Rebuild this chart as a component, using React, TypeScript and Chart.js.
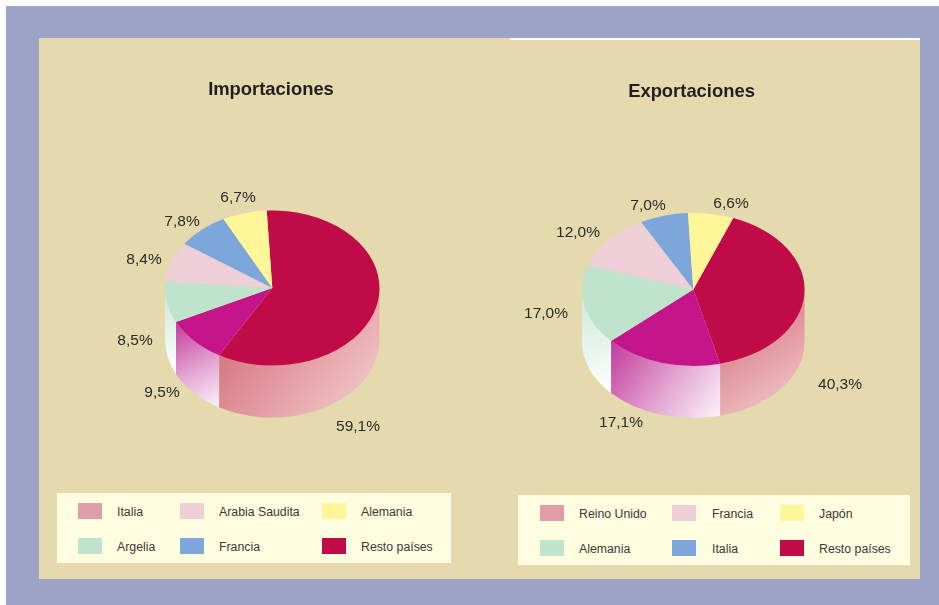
import React, { useEffect, useRef } from "react";
import { Chart, registerables } from "chart.js";

Chart.register(...registerables);

// ---- data ----
const importTitle = "Importaciones";
const exportTitle = "Exportaciones";
const importSlices = ["Resto países", "Italia", "Argelia", "Arabia Saudita", "Francia", "Alemania"];
const importValues = [59.1, 9.5, 8.5, 8.4, 7.8, 6.7];
const importPercentLabels = ["59,1%", "9,5%", "8,5%", "8,4%", "7,8%", "6,7%"];
const exportSlices = ["Resto países", "Reino Unido", "Alemania", "Francia", "Italia", "Japón"];
const exportValues = [40.3, 17.1, 17.0, 12.0, 7.0, 6.6];
const exportPercentLabels = ["40,3%", "17,1%", "17,0%", "12,0%", "7,0%", "6,6%"];
const importLegend = [
  ["Italia", "#E09DA8"], ["Arabia Saudita", "#EFD0D9"], ["Alemania", "#FFF69A"],
  ["Argelia", "#BFE3CB"], ["Francia", "#7DA7DA"], ["Resto países", "#C10A48"],
];
const exportLegend = [
  ["Reino Unido", "#E09DA8"], ["Francia", "#EFD0D9"], ["Japón", "#FFF69A"],
  ["Alemania", "#BFE3CB"], ["Italia", "#7DA7DA"], ["Resto países", "#C10A48"],
];
const sliceColors = ["#C10A48", "#C5158A", "#BFE3CB", "#EFD0D9", "#7DA7DA", "#FFF69A"];
const wallColors = [
  ["#CE5F6E", "#E59FA6", "#F3D3D1"],
  ["#C23A9C", "#E3A6D2", "#FDF3FA"],
  ["#CDE8D8", "#E8F5EE", "#FFFFFF"],
  ["#EFD0D9", "#EFD0D9", "#EFD0D9"],
  ["#7DA7DA", "#7DA7DA", "#7DA7DA"],
  ["#FFF69A", "#FFF69A", "#FFF69A"],
];

// ---- layout ----
const FONT = "'Liberation Sans', Arial, sans-serif";
const PANEL_TOP = 38;
const CANVAS_H = 445;

const wallAndSquash = {
  id: "wallAndSquash",
  beforeDatasetsDraw(chart: any, _a: any, o: any) {
    const ctx = chart.ctx;
    const arcs = chart.getDatasetMeta(0).data;
    ctx.save();
    arcs.forEach((arc: any, i: number) => {
      const { x, y, startAngle, endAngle, outerRadius } = arc.getProps(
        ["x", "y", "startAngle", "endAngle", "outerRadius"], true);
      const cx = x + o.shiftX;
      const rx = outerRadius;
      const ry = outerRadius * o.squash;
      for (let k = -1; k <= 1; k++) {
        const base = k * 2 * Math.PI;
        const a = Math.max(startAngle, base);
        const b = Math.min(endAngle, Math.PI + base);
        if (b <= a) continue;
        const xa = cx + rx * Math.cos(a);
        const xb = cx + rx * Math.cos(b);
        const minX = Math.min(xa, xb);
        const maxX = a <= base ? cx + rx : Math.max(xa, xb);
        const ya = y + ry * Math.sin(a);
        const yb = y + ry * Math.sin(b);
        const lowY = a < base + Math.PI / 2 && b > base + Math.PI / 2 ? y + ry : Math.max(ya, yb);
        const g = ctx.createLinearGradient(minX, Math.min(ya, yb), maxX, lowY + o.depth);
        g.addColorStop(0, wallColors[i][0]);
        g.addColorStop(0.55, wallColors[i][1]);
        g.addColorStop(1, wallColors[i][2]);
        ctx.beginPath();
        ctx.ellipse(cx, y, rx, ry, 0, a, b, false);
        ctx.lineTo(cx + rx * Math.cos(b), y + ry * Math.sin(b) + o.depth);
        ctx.ellipse(cx, y + o.depth, rx, ry, 0, b, a, true);
        ctx.closePath();
        ctx.fillStyle = g;
        ctx.fill();
      }
    });
    const c = arcs[0];
    ctx.translate(c.x + o.shiftX, c.y);
    ctx.scale(1, o.squash);
    ctx.translate(-c.x, -c.y);
  },
  afterDatasetsDraw(chart: any, _a: any, o: any) {
    const ctx = chart.ctx;
    ctx.restore();
    ctx.save();
    ctx.font = `15.5px ${FONT}`;
    ctx.fillStyle = "#2B2B2B";
    ctx.textAlign = "center";
    ctx.textBaseline = "middle";
    o.labels.forEach((t: string, i: number) => {
      ctx.fillText(t, o.labelCentres[i][0] - o.canvasX, o.labelCentres[i][1] - PANEL_TOP);
    });
    ctx.restore();
  },
};

type PieProps = {
  title: string; slices: string[]; values: number[]; labels: string[];
  canvasX: number; canvasW: number; cx: number; cy: number; rx: number; ry: number;
  depth: number; rotation: number; titleY: number; labelCentres: number[][];
};

function Pie(p: PieProps) {
  const ref = useRef<HTMLCanvasElement>(null);
  useEffect(() => {
    const titleCentre = p.canvasX + p.canvasW / 2;
    const side = p.canvasW / 2 - p.rx;
    const areaTop = p.cy - PANEL_TOP - p.rx;
    const lineH = 18.4 * 1.2;
    const padTop = p.titleY - PANEL_TOP - lineH / 2;
    const chart = new Chart(ref.current!, {
      type: "pie",
      data: {
        labels: p.slices,
        datasets: [{ data: p.values, backgroundColor: sliceColors, borderWidth: 0 }],
      },
      plugins: [wallAndSquash],
      options: {
        responsive: false,
        animation: false,
        rotation: p.rotation,
        layout: { padding: { left: side, right: side, top: 0, bottom: CANVAS_H - (areaTop + 2 * p.rx) } },
        plugins: {
          legend: { display: false },
          tooltip: { enabled: false },
          title: {
            display: true,
            text: p.title,
            color: "#231F20",
            font: { family: FONT, size: 18.4, weight: "bold", lineHeight: 1.2 },
            padding: { top: padTop, bottom: areaTop - padTop - lineH },
          },
          wallAndSquash: {
            squash: p.ry / p.rx,
            depth: p.depth,
            shiftX: p.cx - titleCentre,
            labels: p.labels,
            labelCentres: p.labelCentres,
            canvasX: p.canvasX,
          },
        },
      } as any,
    });
    return () => chart.destroy();
  }, []);
  return (
    <canvas
      ref={ref}
      width={p.canvasW}
      height={CANVAS_H}
      style={{ position: "absolute", left: p.canvasX, top: PANEL_TOP, width: p.canvasW, height: CANVAS_H }}
    />
  );
}

function Legend({ items, box, swatchX, textX, rows, swatchH }: any) {
  return (
    <div style={{ position: "absolute", left: box[0], top: box[1], width: box[2], height: box[3], background: "#FFFDE0" }}>
      {items.map(([name, color]: string[], i: number) => {
        const col = i % 3;
        const row = i < 3 ? 0 : 1;
        return (
          <React.Fragment key={name + i}>
            <div style={{ position: "absolute", left: swatchX[col] - box[0], top: rows[row] - swatchH / 2 - box[1], width: 24, height: swatchH, background: color }} />
            <div style={{ position: "absolute", left: textX[col] - box[0], top: rows[row] - 9 - box[1], height: 20, font: `12.3px/20px ${FONT}`, color: "#3A3A3A", whiteSpace: "nowrap" }}>{name}</div>
          </React.Fragment>
        );
      })}
    </div>
  );
}

export default function App() {
  return (
    <div style={{ position: "absolute", left: 0, top: 0, width: 939, height: 605, background: "#FFFFFF", overflow: "hidden" }}>
      <div style={{ position: "absolute", left: 6, top: 6, width: 933, height: 599, background: "#9DA3C7" }} />
      <div style={{ position: "absolute", left: 38.5, top: 38, width: 881, height: 541, background: "#E4DAAD" }} />
      <div style={{ position: "absolute", left: 510, top: 38, width: 409.5, height: 2, background: "#FFFFFF" }} />
      <Pie title={importTitle} slices={importSlices} values={importValues} labels={importPercentLabels}
        canvasX={38} canvasW={466} cx={272.3} cy={288} rx={107.2} ry={77.5} depth={52} rotation={-3} titleY={89.5}
        labelCentres={[[358, 426.5], [162, 392.5], [135, 340.5], [144, 259.5], [182, 221.5], [238, 197.5]]} />
      <Pie title={exportTitle} slices={exportSlices} values={exportValues} labels={exportPercentLabels}
        canvasX={515} canvasW={353} cx={693.3} cy={289.5} rx={111.3} ry={76.5} depth={52} rotation={21} titleY={91.5}
        labelCentres={[[840, 384.5], [621, 422.5], [546, 313.5], [578, 232.5], [648, 205.5], [731, 203.5]]} />
      <Legend items={importLegend} box={[57, 493, 394, 70]} swatchX={[78, 180, 322]} textX={[117, 219, 361]} rows={[511, 546]} swatchH={16} />
      <Legend items={exportLegend} box={[518, 495, 392, 70]} swatchX={[540, 672, 780]} textX={[579, 712, 819]} rows={[513, 548]} swatchH={16.5} />
    </div>
  );
}
